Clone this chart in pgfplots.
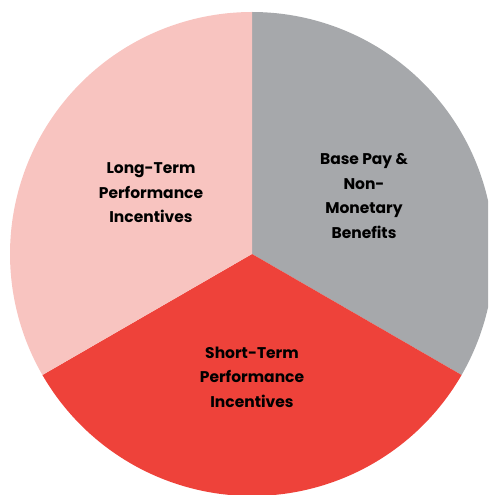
\documentclass[border=0pt]{standalone}
\usepackage{pgfplots}
\usepackage{pgfplotstable}
\pgfplotsset{compat=1.18}
\usepackage{fontspec}
\setmainfont{Poppins}
\definecolor{cgray}{HTML}{A6A8AB}
\definecolor{cred}{HTML}{EE423A}
\definecolor{cpink}{HTML}{F8C4C0}
\pgfplotstableread{
slice value
Base 33.3333
Short 33.3333
Long 33.3333
}\piedata
\pgfplotstablegetelem{0}{value}\of\piedata\let\vA\pgfplotsretval
\pgfplotstablegetelem{1}{value}\of\piedata\let\vB\pgfplotsretval
\pgfplotstablegetelem{2}{value}\of\piedata\let\vC\pgfplotsretval
\pgfmathsetmacro{\aZ}{90}
\pgfmathsetmacro{\aA}{\aZ-3.6*\vA}
\pgfmathsetmacro{\aB}{\aA-3.6*\vB}
\pgfmathsetmacro{\aC}{\aB-3.6*\vC}
\begin{document}%
\begin{tikzpicture}
\begin{axis}[
  width=488pt, height=495pt, scale only axis,
  xmin=0, xmax=488, ymin=0, ymax=495,
  hide axis, clip=true,
]
\addplot[fill=cgray, draw=none, domain=\aA:\aZ, samples=120]
  ({252+242*cos(x)},{241+242*sin(x)}) -- (axis cs:252,241) -- cycle;
\addplot[fill=cred, draw=none, domain=\aB:\aA, samples=120]
  ({252+242*cos(x)},{241+242*sin(x)}) -- (axis cs:252,241) -- cycle;
\addplot[fill=cpink, draw=none, domain=\aC:\aB, samples=120]
  ({252+242*cos(x)},{241+242*sin(x)}) -- (axis cs:252,241) -- cycle;
\node[align=center, font=\fontsize{15.5}{24.5}\selectfont\bfseries] at (axis cs:151,302) {Long-Term\\Performance\\Incentives};
\node[align=center, font=\fontsize{15.5}{24.5}\selectfont\bfseries] at (axis cs:364,299) {Base Pay \&\\Non-\\Monetary\\Benefits};
\node[align=center, font=\fontsize{15.5}{24.5}\selectfont\bfseries] at (axis cs:252,118) {Short-Term\\Performance\\Incentives};
\coordinate (BBSW) at (rel axis cs:0,0);
\coordinate (BBNE) at (rel axis cs:1,1);
\end{axis}
\pgfresetboundingbox
\useasboundingbox (BBSW) rectangle (BBNE);
\end{tikzpicture}%
\end{document}
